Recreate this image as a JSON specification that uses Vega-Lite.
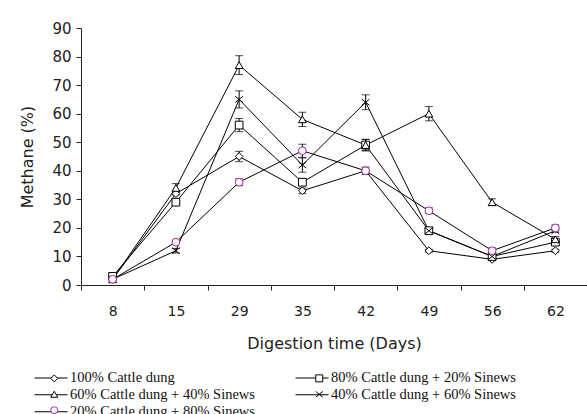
{
  "$schema": "https://vega.github.io/schema/vega-lite/v6.json",
  "width": 506,
  "height": 257,
  "autosize": "none",
  "padding": {"left": 81, "top": 28, "right": 0, "bottom": 129},
  "config": {
    "view": {"stroke": null},
    "font": "DejaVu Sans",
    "axis": {"grid": false, "domainColor": "#222", "tickColor": "#222", "labelColor": "#222", "titleColor": "#222", "titleFontWeight": "normal", "labelFont": "DejaVu Sans", "titleFont": "DejaVu Sans"}
  },
  "data": {
    "values": [
      {"series": "100% Cattle dung", "day": 8, "value": 2, "err": 0},
      {"series": "100% Cattle dung", "day": 15, "value": 32, "err": 0.5},
      {"series": "100% Cattle dung", "day": 29, "value": 45, "err": 1.8},
      {"series": "100% Cattle dung", "day": 35, "value": 33, "err": 1},
      {"series": "100% Cattle dung", "day": 42, "value": 40, "err": 0.5},
      {"series": "100% Cattle dung", "day": 49, "value": 12, "err": 0.5},
      {"series": "100% Cattle dung", "day": 56, "value": 9, "err": 0.5},
      {"series": "100% Cattle dung", "day": 62, "value": 12, "err": 0.5},
      {"series": "80% Cattle dung + 20% Sinews", "day": 8, "value": 3, "err": 0.5},
      {"series": "80% Cattle dung + 20% Sinews", "day": 15, "value": 29, "err": 0.5},
      {"series": "80% Cattle dung + 20% Sinews", "day": 29, "value": 56, "err": 2.3},
      {"series": "80% Cattle dung + 20% Sinews", "day": 35, "value": 36, "err": 1.2},
      {"series": "80% Cattle dung + 20% Sinews", "day": 42, "value": 49, "err": 2},
      {"series": "80% Cattle dung + 20% Sinews", "day": 49, "value": 19, "err": 1},
      {"series": "80% Cattle dung + 20% Sinews", "day": 56, "value": 10, "err": 0.5},
      {"series": "80% Cattle dung + 20% Sinews", "day": 62, "value": 15, "err": 0.5},
      {"series": "60% Cattle dung + 40% Sinews", "day": 8, "value": 2, "err": 0},
      {"series": "60% Cattle dung + 40% Sinews", "day": 15, "value": 34, "err": 1.5},
      {"series": "60% Cattle dung + 40% Sinews", "day": 29, "value": 77, "err": 3.3},
      {"series": "60% Cattle dung + 40% Sinews", "day": 35, "value": 58, "err": 2.5},
      {"series": "60% Cattle dung + 40% Sinews", "day": 42, "value": 49, "err": 2},
      {"series": "60% Cattle dung + 40% Sinews", "day": 49, "value": 60, "err": 2.5},
      {"series": "60% Cattle dung + 40% Sinews", "day": 56, "value": 29, "err": 1.2},
      {"series": "60% Cattle dung + 40% Sinews", "day": 62, "value": 16, "err": 1},
      {"series": "40% Cattle dung + 60% Sinews", "day": 8, "value": 2, "err": 0},
      {"series": "40% Cattle dung + 60% Sinews", "day": 15, "value": 12, "err": 0.8},
      {"series": "40% Cattle dung + 60% Sinews", "day": 29, "value": 65, "err": 3},
      {"series": "40% Cattle dung + 60% Sinews", "day": 35, "value": 42, "err": 2.5},
      {"series": "40% Cattle dung + 60% Sinews", "day": 42, "value": 64, "err": 2.6},
      {"series": "40% Cattle dung + 60% Sinews", "day": 49, "value": 19, "err": 1},
      {"series": "40% Cattle dung + 60% Sinews", "day": 56, "value": 10, "err": 0.5},
      {"series": "40% Cattle dung + 60% Sinews", "day": 62, "value": 19, "err": 0.5},
      {"series": "20% Cattle dung + 80% Sinews", "day": 8, "value": 2, "err": 0},
      {"series": "20% Cattle dung + 80% Sinews", "day": 15, "value": 15, "err": 0.5},
      {"series": "20% Cattle dung + 80% Sinews", "day": 29, "value": 36, "err": 1.2},
      {"series": "20% Cattle dung + 80% Sinews", "day": 35, "value": 47, "err": 2.3},
      {"series": "20% Cattle dung + 80% Sinews", "day": 42, "value": 40, "err": 1.3},
      {"series": "20% Cattle dung + 80% Sinews", "day": 49, "value": 26, "err": 1},
      {"series": "20% Cattle dung + 80% Sinews", "day": 56, "value": 12, "err": 1},
      {"series": "20% Cattle dung + 80% Sinews", "day": 62, "value": 20, "err": 1}
    ]
  },
  "encoding": {
    "x": {
      "field": "day",
      "type": "ordinal",
      "scale": {"paddingInner": 0, "paddingOuter": 0},
      "axis": {"title": "Digestion time (Days)", "labelAngle": 0, "tickBand": "extent", "tickSize": 5, "labelPadding": 14, "titlePadding": 17, "labelFontSize": 14, "titleFontSize": 16}
    },
    "y": {
      "field": "value",
      "type": "quantitative",
      "scale": {"domain": [0, 90], "nice": false},
      "axis": {"title": "Methane (%)", "values": [0, 10, 20, 30, 40, 50, 60, 70, 80, 90], "tickSize": 5, "labelPadding": 5, "titlePadding": 16, "labelFontSize": 15, "titleFontSize": 16}
    }
  },
  "layer": [
    {
      "mark": {"type": "line", "strokeWidth": 1},
      "encoding": {
        "color": {
          "field": "series",
          "type": "nominal",
          "scale": {"domain": ["100% Cattle dung", "60% Cattle dung + 40% Sinews", "20% Cattle dung + 80% Sinews", "80% Cattle dung + 20% Sinews", "40% Cattle dung + 60% Sinews"], "range": ["black", "black", "black", "black", "black"]},
          "legend": {
            "orient": "none",
            "legendX": -47,
            "legendY": 343,
            "title": null,
            "columns": 2,
            "symbolType": "stroke",
            "symbolSize": 1089,
            "symbolStrokeWidth": 1,
            "clipHeight": 13.5,
            "rowPadding": 1,
            "columnPadding": 40,
            "labelOffset": 2,
            "labelLimit": 0,
            "padding": 0,
            "labelFont": "Liberation Serif",
            "labelFontSize": 14.5,
            "labelColor": "#111"
          }
        }
      }
    },
    {
      "mark": {"type": "errorbar", "color": "black", "ticks": {"size": 8, "color": "black"}, "rule": {"color": "black", "strokeWidth": 1}},
      "encoding": {"yError": {"field": "err"}, "detail": {"field": "series"}}
    },
    {
      "mark": {"type": "point", "filled": false, "fill": "white", "size": 60, "strokeWidth": 1, "opacity": 1},
      "encoding": {
        "stroke": {
          "field": "series",
          "scale": {"domain": ["100% Cattle dung", "60% Cattle dung + 40% Sinews", "20% Cattle dung + 80% Sinews", "80% Cattle dung + 20% Sinews", "40% Cattle dung + 60% Sinews"], "range": ["black", "black", "#A0279F", "black", "black"]},
          "legend": null
        },
        "shape": {
          "field": "series",
          "type": "nominal",
          "sort": ["100% Cattle dung", "60% Cattle dung + 40% Sinews", "20% Cattle dung + 80% Sinews", "80% Cattle dung + 20% Sinews", "40% Cattle dung + 60% Sinews"],
          "scale": {"range": ["diamond", "triangle-up", "circle", "square", "M-1,-0.8L1,0.8M-1,0.8L1,-0.8"]},
          "legend": {
            "orient": "none",
            "legendX": -47,
            "legendY": 343,
            "title": null,
            "columns": 2,
            "symbolSize": 49,
            "symbolStrokeWidth": 1,
            "symbolOffset": 13,
            "rowPadding": 1,
            "columnPadding": 209,
            "labelOffset": 28,
            "labelLimit": 0,
            "labelExpr": "''",
            "padding": 0,
            "labelFont": "Liberation Serif",
            "labelFontSize": 14.5,
            "encoding": {
              "symbols": {
                "stroke": {"value": {"expr": "datum.value === '20% Cattle dung + 80% Sinews' ? '#A0279F' : 'black'"}},
                "fill": {"value": "white"}
              }
            }
          }
        }
      }
    }
  ]
}
